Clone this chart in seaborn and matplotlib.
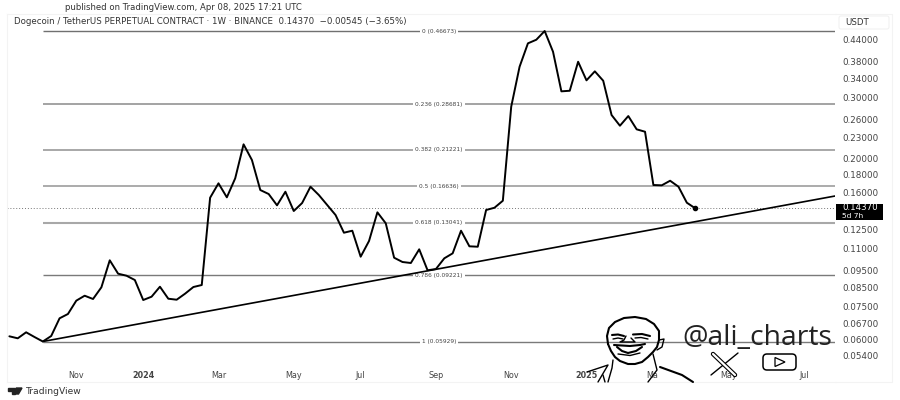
import matplotlib
matplotlib.use('Agg')
import matplotlib.pyplot as plt
import matplotlib.dates as mdates
from matplotlib.patches import FancyBboxPatch, Rectangle, Polygon
import numpy as np
import pandas as pd
import seaborn as sns

# weekly closes
prices = [0.06137, 0.06056, 0.06303, 0.06109, 0.05929, 0.06150, 0.06917, 0.07118, 0.07778, 0.08038,
          0.07864, 0.08499, 0.10170, 0.09304, 0.09181, 0.08921, 0.07811, 0.07985, 0.08533, 0.07879,
          0.07827, 0.08145, 0.08516, 0.08630, 0.15415, 0.16963, 0.15455, 0.17536, 0.21979, 0.19803,
          0.16224, 0.15799, 0.14656, 0.16042, 0.14111, 0.14882, 0.16584, 0.15694, 0.14685, 0.13740,
          0.12216, 0.12380, 0.10416, 0.11562, 0.13989, 0.13005, 0.10347, 0.10056, 0.09989, 0.10941,
          0.09516, 0.09598, 0.10305, 0.10652, 0.12380, 0.11161, 0.11131, 0.14206, 0.14423, 0.15110,
          0.28221, 0.36807, 0.43003, 0.44045, 0.46673, 0.40668, 0.31258, 0.31381, 0.38051, 0.33630,
          0.35700, 0.33541, 0.26707, 0.24873, 0.26526, 0.24284, 0.23901, 0.16773, 0.16739, 0.17257,
          0.16584, 0.14912, 0.14370]
weeks = pd.date_range('2023-09-11', periods=len(prices), freq='7D')

fib_ratios = ['0', '0.236', '0.382', '0.5', '0.618', '0.786', '1']
fib_prices = [0.46673, 0.28681, 0.21221, 0.16636, 0.13041, 0.09221, 0.05929]
fib_colors = ['#707070', '#8a8a8a', '#a8a8a8', '#949494', '#a8a8a8', '#7a7a7a', '#7a7a7a']
fib_widths = [1.0, 1.1, 1.4, 1.1, 1.5, 1.0, 1.0]

price_ticks = [0.44, 0.38, 0.34, 0.30, 0.26, 0.23, 0.20, 0.18, 0.16, 0.125, 0.11,
               0.095, 0.085, 0.075, 0.067, 0.06, 0.054]
date_ticks = ['2023-11-06', '2024-01-01', '2024-03-04', '2024-05-06', '2024-07-01', '2024-09-02',
              '2024-11-04', '2025-01-06', '2025-03-03', '2025-05-05', '2025-07-07']
date_labels = ['Nov', '2024', 'Mar', 'May', 'Jul', 'Sep', 'Nov', '2025', 'Mar', 'May', 'Jul']

trend_start = ('2023-10-09', 0.05929)
trend_end = ('2025-08-02', 0.1559)
last_price = 0.14370

sns.set_theme(style='white')
plt.rcParams['font.family'] = ['DejaVu Sans']

fig = plt.figure(figsize=(9, 4), dpi=100)
ax = fig.add_axes([7/900, 18/400, 828/900, 368/400])
df = pd.DataFrame({'week': weeks, 'price': prices})

ax.set_yscale('log')
x_left = pd.Timestamp('2023-09-09')
x_right = pd.Timestamp('2025-08-02')
ax.set_xlim(x_left, x_right)
ax.set_ylim(0.0453, 0.5226)

# fib levels with the label sitting in a gap in the middle
x_start = pd.Timestamp(trend_start[0])
x_mid = x_start + (x_right - x_start) / 2
for ratio, level, col, lw in zip(fib_ratios, fib_prices, fib_colors, fib_widths):
    ax.hlines(level, x_start, x_right, color=col, lw=lw, zorder=1)
    ax.text(x_mid, level, f'{ratio} ({level:.5f})', fontsize=4.2, color='#444444', ha='center', va='center',
            bbox=dict(facecolor='white', edgecolor='none', pad=1.5), zorder=2)

ax.axhline(last_price, color='#777777', lw=0.7, ls=(0, (1, 2)), zorder=1)
ax.plot([pd.Timestamp(trend_start[0]), pd.Timestamp(trend_end[0])], [trend_start[1], trend_end[1]],
        color='black', lw=1.2, zorder=3)
sns.lineplot(data=df, x='week', y='price', color='black', lw=1.4, estimator=None, ax=ax, zorder=4)
ax.scatter(weeks[-1], prices[-1], color='black', s=9, zorder=5)

ax.set_xlabel('')
ax.set_ylabel('')
ax.yaxis.tick_right()
ax.set_yticks(price_ticks)
ax.set_yticklabels([f'{p:.5f}' for p in price_ticks])
ax.minorticks_off()
ax.tick_params(axis='y', length=0, pad=5, labelsize=6.3, labelcolor='#444444')
ax.set_xticks([mdates.date2num(pd.Timestamp(d)) for d in date_ticks])
ax.set_xticklabels(date_labels)
ax.tick_params(axis='x', length=0, pad=-8, labelsize=5.8, labelcolor='#444444')
for lab in ax.get_xticklabels():
    if lab.get_text().startswith('20'):
        lab.set_fontweight('bold')
for s in ['top', 'left', 'bottom']:
    ax.spines[s].set_color('#f3f3f3')
    ax.spines[s].set_linewidth(0.8)
ax.spines['right'].set_visible(False)

# overlay in picture pixels for the header, price tag, logos and portrait
ov = fig.add_axes([0, 0, 1, 1], facecolor='none')
ov.set_xlim(0, 900)
ov.set_ylim(400, 0)
ov.axis('off')

ov.text(65, 8, 'published on TradingView.com, Apr 08, 2025 17:21 UTC', fontsize=6.15, color='#333333', va='center')
ov.text(14, 21.5, 'Dogecoin / TetherUS PERPETUAL CONTRACT · 1W · BINANCE  0.14370  −0.00545 (−3.65%)',
        fontsize=6.25, color='#333333', va='center')
ov.plot([835, 892, 892, 835], [14, 14, 382, 382], color='#f3f3f3', lw=0.8)
ov.add_patch(FancyBboxPatch((839, 16), 50, 13, boxstyle='round,pad=0,rounding_size=2',
                            facecolor='white', edgecolor='#f0f0f0', lw=0.7))
ov.text(845, 22.5, 'USDT', fontsize=6.2, color='#333333', va='center')

ov.add_patch(Rectangle((836, 204), 47, 16, facecolor='black', edgecolor='none'))
ov.text(842, 207.8, '0.14370', fontsize=6.2, color='white', va='center')
ov.text(842, 215.6, '5d 7h', fontsize=5.4, color='white', va='center')

# TradingView logo
ov.add_patch(Polygon([(8, 388), (15, 388), (15, 394), (12, 394), (12, 391), (8, 391)], color='#222222'))
ov.add_patch(Polygon([(16.5, 388), (22, 388), (18.5, 394), (15.5, 394)], color='#222222'))
ov.text(26, 391, 'TradingView', fontsize=6.6, color='#333333', va='center')

# portrait sketch
ink = dict(color='black', lw=1.0, solid_capstyle='round', zorder=6)
bold = dict(color='black', lw=1.5, solid_capstyle='round', zorder=6)
ov.add_patch(Rectangle((658, 369), 8, 11, facecolor='white', edgecolor='none', zorder=5))
head = [(608, 344), (607, 336), (609, 328), (615, 322), (624, 318), (635, 317), (646, 319), (654, 324),
        (659, 331), (659, 340), (657, 347), (653, 352), (648, 357), (642, 362), (635, 364), (628, 364),
        (620, 361), (615, 357), (611, 351), (608, 344)]
ov.plot(*zip(*head), **bold)
ov.plot([659, 664, 662, 657], [340, 339, 347, 350], **ink)
ov.plot([612, 618, 624], [335, 334.5, 336], **bold)
ov.plot([633, 642, 650], [334.5, 334, 336], **bold)
ov.plot([613, 618, 623], [339, 338, 339], **ink)
ov.plot([635, 641, 648], [338, 337.5, 339], **ink)
ov.plot([626, 624, 620, 635, 631], [336, 340, 342, 342, 338], **ink)
ov.plot([614, 622, 630, 640, 645], [345, 345.5, 346, 345, 344], **bold)
ov.plot([617, 622, 628, 636, 642], [347, 351, 353, 351, 347], **bold)
ov.plot([618, 630, 640], [354, 355.5, 353], **ink)
# collar and shoulders
ov.plot([587, 608, 598], [372, 365, 382], **ink)
ov.plot([603, 605], [375, 382], **ink)
ov.plot([613, 612, 608], [360, 368, 382], **ink)
ov.plot([653, 657, 648], [354, 370, 382], **ink)
ov.plot([660, 682, 693], [367, 375, 382], **bold)

ov.text(682, 338, '@ali_charts', fontsize=20.4, family='Open Sans', color='#222222', va='center', zorder=6)

# X and YouTube marks
ov.plot([713, 735], [354, 375], color='black', lw=3.2, zorder=6)
ov.plot([713, 735], [354, 375], color='white', lw=1.6, zorder=6)
ov.plot([738, 711], [353, 375], color='black', lw=1.0, zorder=5.5)
ov.add_patch(FancyBboxPatch((763, 354), 33, 16, boxstyle='round,pad=0,rounding_size=4',
                            facecolor='white', edgecolor='black', lw=1.1, zorder=6))
ov.add_patch(Polygon([(775, 357.5), (785, 362), (775, 366.5)], closed=True, facecolor='white',
                     edgecolor='black', lw=0.9, zorder=7))

fig.savefig('out.png', dpi=100, facecolor='white')
